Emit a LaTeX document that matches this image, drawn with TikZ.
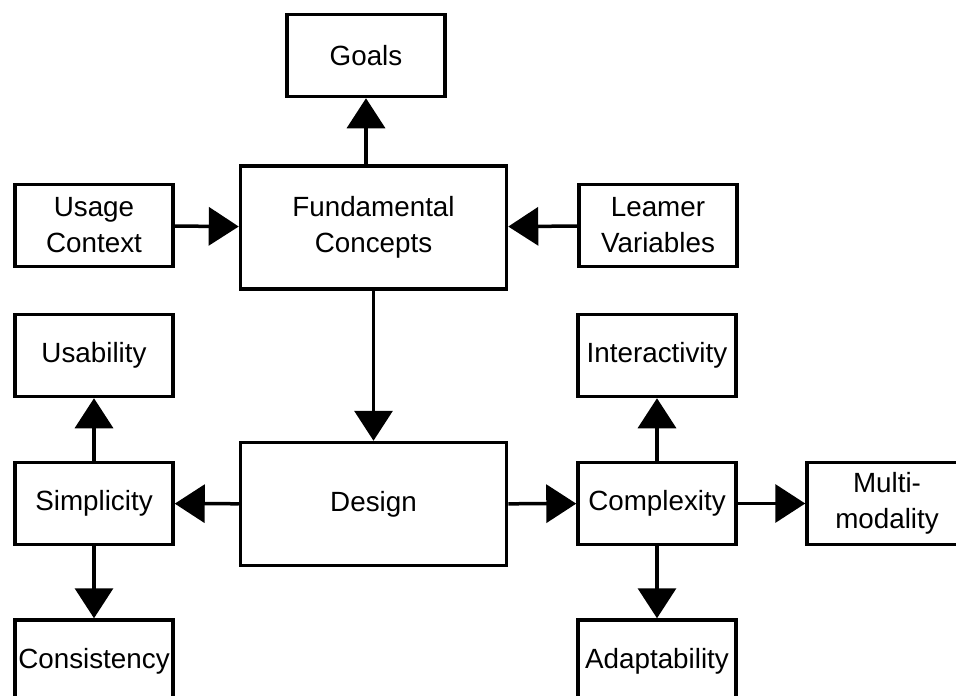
\documentclass[tikz,border=0pt]{standalone}
\usepackage{fontspec}
\setmainfont{Liberation Sans}
\usetikzlibrary{arrows.meta,calc}
\tikzstyle{box}=[draw, line width=3.5pt, align=center, inner sep=0pt, font=\fontsize{27.8}{36}\selectfont]
\tikzstyle{small}=[box, minimum width=158pt, minimum height=82pt]
\tikzstyle{big}=[box, minimum width=266pt, minimum height=123pt]
\tikzstyle{arr}=[line width=3.5pt, -{Triangle[width=38pt,length=30pt]}]

\begin{document}
\begin{tikzpicture}[x=1pt,y=-1pt]
\useasboundingbox (0,0) rectangle (956,696);
\clip (0,0) rectangle (956,696);
% top row
\node[small] (goals) at (366,55.5) {Goals};
\node[big] (fund) at (373.5,227.5) {Fundamental\\Concepts};
\node[small] (usage) at (94,225.5) {Usage\\Context};
\node[small] (learner) at (658,225.5) {Leamer\\Variables};
% middle and bottom
\node[small] (usab) at (94,355.5) {Usability};
\node[small] (inter) at (657,355.5) {Interactivity};
\node[big] (design) at (373.5,504) {Design};
\node[small] (simp) at (94,503.5) {Simplicity};
\node[small] (comp) at (657,503.5) {Complexity};
\node[small, minimum width=180pt] (multi) at (897,503.5) {\hspace*{-20pt}Multi-\\\hspace*{-20pt}modality};
\node[small] (cons) at (94,661) {Consistency};
\node[small] (adapt) at (657,661) {Adaptability};
% connectors
\draw[arr] (fund.north -| goals) -- (goals);
\draw[arr] (usage) -- (fund);
\draw[arr] (learner) -- (fund);
\draw[arr] (fund) -- (design);
\draw[arr] (design) -- (simp);
\draw[arr] (design) -- (comp);
\draw[arr] (simp) -- (usab);
\draw[arr] (simp) -- (cons);
\draw[arr] (comp) -- (inter);
\draw[arr] (comp) -- (adapt);
\draw[arr] (comp) -- (multi);
\end{tikzpicture}
\end{document}
